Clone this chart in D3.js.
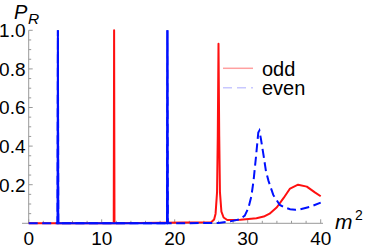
<!DOCTYPE html>
<html>
<head>
<meta charset="utf-8">
<script src="https://cdn.jsdelivr.net/npm/d3@7"></script>
<style>
  body { margin: 0; background: #fff; }
  text { font-family: "Liberation Sans", Arial, sans-serif; }
</style>
</head>
<body>
<div id="plotDiv"></div>
<script>
// --- data ---
const oddX = [0, 11.65, 11.7, 11.75, 25.0, 25.4, 25.6, 25.8, 25.9, 26.0, 26.1, 26.2, 26.4, 26.7, 27.2, 29, 31.2, 32.2, 33.0, 34.0, 34.9, 35.8, 36.9, 38.1, 39.2, 40];
const oddY = [0, 0, 1.0, 0, 0.005, 0.02, 0.05, 0.16, 0.45, 0.93, 0.45, 0.16, 0.06, 0.03, 0.017, 0.018, 0.026, 0.035, 0.05, 0.083, 0.13, 0.18, 0.20, 0.19, 0.16, 0.14];

const evenX = [0, 3.95, 4.0, 4.05, 18.95, 19.0, 19.05, 26, 27.6, 28.9, 29.6, 30.1, 30.5, 30.8, 31.15, 31.45, 31.6, 31.8, 32.2, 32.5, 32.85, 33.5, 34.4, 35.0, 35.8, 36.5, 37.2, 38.6, 40];
const evenY = [0, 0, 1.0, 0, 0, 1.0, 0, 0.002, 0.01, 0.02, 0.04, 0.08, 0.14, 0.22, 0.35, 0.47, 0.48, 0.44, 0.345, 0.27, 0.22, 0.147, 0.095, 0.083, 0.073, 0.07, 0.073, 0.086, 0.107];
const evenSpikes = [4.0, 19.0];

const xTicks = [0, 10, 20, 30, 40];
const yTicks = [0.2, 0.4, 0.6, 0.8, 1.0];
const seriesNames = ["odd", "even"];

const width = 366, height = 247;

const svg = d3.select("#plotDiv").append("svg")
    .attr("width", width)
    .attr("height", height);

// scales
const xScale = d3.scaleLinear().domain([0, 40]).range([28.7, 320.7]);
const yScale = d3.scaleLinear().domain([0, 1]).range([223.3, 30.3]);

const axisColor = "#999";

// x axis line (sticks out a bit left like Mathematica)
svg.append("line")
    .attr("x1", 22).attr("x2", 323)
    .attr("y1", yScale(0)).attr("y2", yScale(0))
    .attr("stroke", axisColor).attr("stroke-width", 1);
// y axis line
svg.append("line")
    .attr("x1", xScale(0)).attr("x2", xScale(0))
    .attr("y1", yScale(0)).attr("y2", yScale(1))
    .attr("stroke", axisColor).attr("stroke-width", 1);

// minor + major ticks
const xMinor = d3.range(0, 40.01, 2);
svg.append("g").selectAll("line").data(xMinor).enter().append("line")
    .attr("x1", d => xScale(d)).attr("x2", d => xScale(d))
    .attr("y1", yScale(0)).attr("y2", d => yScale(0) - (d % 10 === 0 ? 4 : 2.5))
    .attr("stroke", axisColor).attr("stroke-width", 1);

const yMinor = d3.range(0.05, 1.001, 0.05);
svg.append("g").selectAll("line").data(yMinor).enter().append("line")
    .attr("y1", d => yScale(d)).attr("y2", d => yScale(d))
    .attr("x1", xScale(0)).attr("x2", d => xScale(0) + (Math.abs(d * 5 - Math.round(d * 5)) < 1e-6 ? 4 : 2.5))
    .attr("stroke", axisColor).attr("stroke-width", 1);

// tick labels
svg.append("g").selectAll("text").data(xTicks).enter().append("text")
    .attr("x", d => xScale(d))
    .attr("y", 244.5)
    .attr("text-anchor", "middle")
    .style("font-size", "19px")
    .text(d => d);

svg.append("g").selectAll("text").data(yTicks).enter().append("text")
    .attr("x", 25.5)
    .attr("y", d => yScale(d) + 6.8)
    .attr("text-anchor", "end")
    .style("font-size", "19px")
    .text(d => d.toFixed(1));

// curves
const line = d3.line()
    .x(d => xScale(d[0]))
    .y(d => yScale(d[1]));

const oddData = oddX.map((x, i) => [x, oddY[i]]);
const evenData = evenX.map((x, i) => [x, evenY[i]]);

svg.append("path")
    .datum(oddData)
    .attr("d", line)
    .attr("fill", "none")
    .attr("stroke", "#ff1010")
    .attr("stroke-width", 2)
    .attr("stroke-linejoin", "round");

svg.append("path")
    .datum(evenData)
    .attr("d", line)
    .attr("fill", "none")
    .attr("stroke", "#0010ff")
    .attr("stroke-width", 2)
    .attr("stroke-dasharray", "9,4.5");

// narrow spikes of the even curve look solid
const spikeLine = d3.line()
    .defined(d => evenSpikes.some(s => Math.abs(d[0] - s) < 0.1))
    .x(d => xScale(d[0]))
    .y(d => yScale(d[1]));

svg.append("path")
    .datum(evenData)
    .attr("d", spikeLine)
    .attr("fill", "none")
    .attr("stroke", "#0010ff")
    .attr("stroke-width", 2);

// legend
const legend = svg.append("g");
const legendColors = ["#ffa0a0", "#c8c8ff"];
const legendDash = [null, "9,5"];
seriesNames.forEach((name, i) => {
    const ly = 68.3 + i * 19.5;
    legend.append("line")
        .attr("x1", 223).attr("x2", 253)
        .attr("y1", ly).attr("y2", ly)
        .attr("stroke", legendColors[i])
        .attr("stroke-width", 1.5)
        .attr("stroke-dasharray", legendDash[i]);
    legend.append("text")
        .attr("x", 262)
        .attr("y", ly + 7.5)
        .style("font-size", "20px")
        .text(name);
});

// axis labels
svg.append("text")
    .attr("x", 14)
    .attr("y", 18.5)
    .style("font-size", "20px")
    .style("font-style", "italic")
    .text("P");
svg.append("text")
    .attr("x", 28)
    .attr("y", 23.5)
    .style("font-size", "15.5px")
    .style("font-style", "italic")
    .text("R");

svg.append("text")
    .attr("x", 335)
    .attr("y", 229)
    .style("font-size", "21px")
    .style("font-style", "italic")
    .text("m");
svg.append("text")
    .attr("x", 355)
    .attr("y", 220)
    .style("font-size", "14px")
    .text("2");
</script>
</body>
</html>
